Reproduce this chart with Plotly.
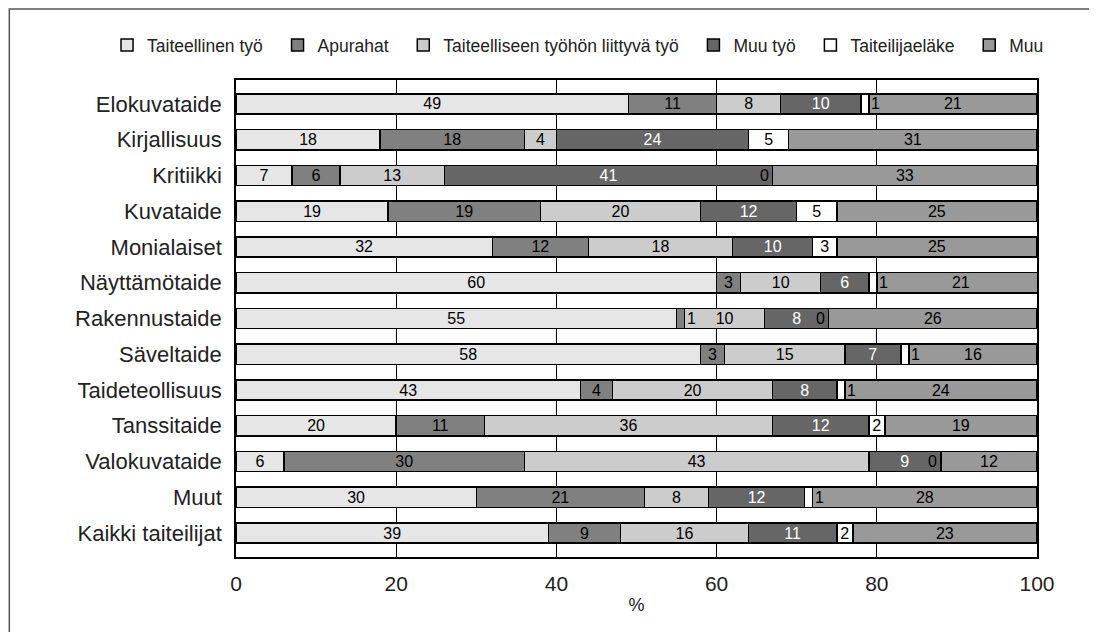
import plotly.graph_objects as go

FONT = "Liberation Sans, Arial, sans-serif"

categories = ["Elokuvataide", "Kirjallisuus", "Kritiikki", "Kuvataide", "Monialaiset",
              "Näyttämötaide", "Rakennustaide", "Säveltaide", "Taideteollisuus",
              "Tanssitaide", "Valokuvataide", "Muut", "Kaikki taiteilijat"]

taiteellinen_tyo = [49, 18, 7, 19, 32, 60, 55, 58, 43, 20, 6, 30, 39]
apurahat = [11, 18, 6, 19, 12, 3, 1, 3, 4, 11, 30, 21, 9]
liittyva_tyo = [8, 4, 13, 20, 18, 10, 10, 15, 20, 36, 43, 8, 16]
muu_tyo = [10, 24, 41, 12, 10, 6, 8, 7, 8, 12, 9, 12, 11]
elake = [1, 5, 0, 5, 3, 1, 0, 1, 1, 2, 0, 1, 2]
muu = [21, 31, 33, 25, 25, 21, 26, 16, 24, 19, 12, 28, 23]

series = [
    ("Taiteellinen työ", taiteellinen_tyo, "#e6e6e6", "black"),
    ("Apurahat", apurahat, "#808080", "black"),
    ("Taiteelliseen työhön liittyvä työ", liittyva_tyo, "#cccccc", "black"),
    ("Muu työ", muu_tyo, "#666666", "white"),
    ("Taiteilijaeläke", elake, "#ffffff", "black"),
    ("Muu", muu, "#999999", "black"),
]

VAL_SIZE = 16
PAD = "\u00a0" * 2  # extra room between legend entries

fig = go.Figure()
for name, vals, color, tcolor in series:
    fig.add_trace(go.Bar(
        y=categories, x=vals, name=name + PAD, orientation="h",
        marker=dict(color=color, line=dict(color="black", width=1.5)),
        text=[str(v) if v >= 2 else "" for v in vals],
        textposition="inside", insidetextanchor="middle", textangle=0,
        textfont=dict(color=tcolor, size=VAL_SIZE, family=FONT),
    ))

# tiny segments (0 and 1) get their label beside the bar
annotations = []
start = [0] * len(categories)
for name, vals, color, tcolor in series:
    for i, v in enumerate(vals):
        end = start[i] + v
        if v == 1:
            annotations.append(dict(x=end, y=categories[i], text="1", showarrow=False,
                                    xanchor="left", xshift=0,
                                    font=dict(size=VAL_SIZE, family=FONT, color="black")))
        elif v == 0:
            annotations.append(dict(x=end, y=categories[i], text="0", showarrow=False,
                                    xanchor="right", xshift=-2,
                                    font=dict(size=VAL_SIZE, family=FONT, color="black")))
        start[i] = end

fig.update_layout(
    width=1097, height=632,
    margin=dict(l=228, r=68, t=72, b=83, autoexpand=False),
    barmode="stack", bargap=0.43,
    plot_bgcolor="white", paper_bgcolor="white",
    font=dict(family=FONT, color="#222222"),
    showlegend=True,
    legend=dict(orientation="h", x=-0.161, xanchor="left", y=1.073, yanchor="middle",
                font=dict(size=17.5, family=FONT, color="#222222"), traceorder="normal"),
    annotations=annotations,
    uniformtext=dict(minsize=VAL_SIZE, mode="show"),
    shapes=[dict(type="rect", xref="paper", yref="paper", x0=-0.283, x1=1.2, y0=-0.3, y1=1.149,
                 line=dict(color="#555555", width=1.5), layer="below")],
)
fig.update_xaxes(range=[0, 100], tickvals=[0, 20, 40, 60, 80, 100],
                 showgrid=True, gridcolor="black", gridwidth=1, zeroline=False,
                 showline=True, linecolor="black", linewidth=1.5, mirror=True,
                 ticks="", ticklabelstandoff=7,
                 tickfont=dict(size=21, family=FONT, color="#222222"),
                 title=dict(text="%", font=dict(size=18, family=FONT, color="#222222"), standoff=4))
fig.update_yaxes(type="category", categoryorder="array", categoryarray=categories,
                 range=[len(categories) - 1 + 0.67, -0.67],
                 showline=True, linecolor="black", linewidth=1.5, mirror=True,
                 ticks="", ticklabelstandoff=8, showgrid=False,
                 tickfont=dict(size=22, family=FONT, color="#222222"))

fig.write_html("out.html")
